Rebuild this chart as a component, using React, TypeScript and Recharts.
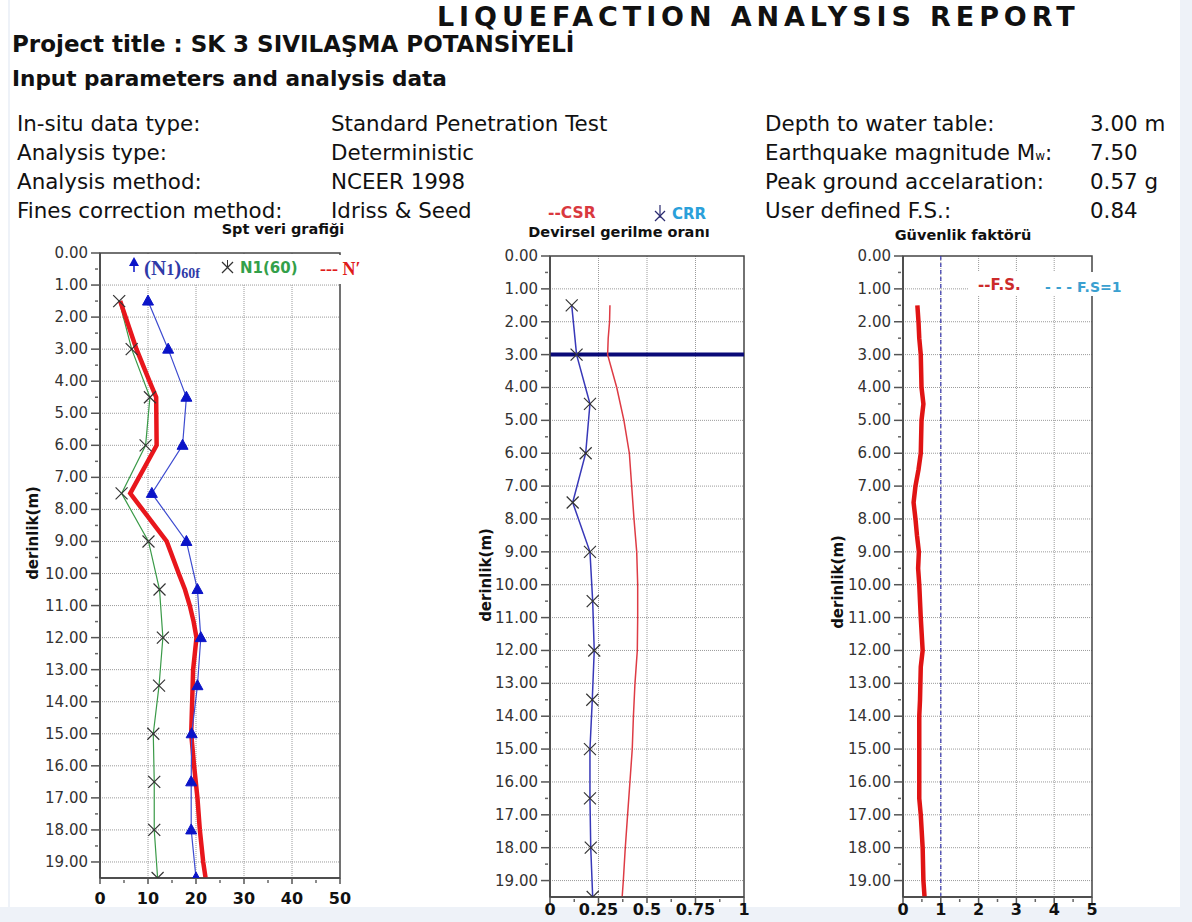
import React from "react";
import {
  LineChart,
  Line,
  XAxis,
  YAxis,
  CartesianGrid,
  ReferenceLine,
  ReferenceArea,
} from "recharts";

// depth axis (shared)
const depthTicks = [
  0, 0.5, 1, 1.5, 2, 2.5, 3, 3.5, 4, 4.5, 5, 5.5, 6, 6.5, 7, 7.5, 8, 8.5, 9, 9.5,
  10, 10.5, 11, 11.5, 12, 12.5, 13, 13.5, 14, 14.5, 15, 15.5, 16, 16.5, 17, 17.5,
  18, 18.5, 19,
];
const depthGrid = [1, 2, 3, 4, 5, 6, 7, 8, 9, 10, 11, 12, 13, 14, 15, 16, 17, 18, 19];

// Spt veri grafiği
const sptDepths = [1.5, 3, 4.5, 6, 7.5, 9, 10.5, 12, 13.5, 15, 16.5, 18, 19.5];
const n160fValues = [10, 14.2, 18, 17.2, 10.8, 18, 20.3, 21, 20.3, 19.1, 19, 19, 20];
const n160Values = [4, 6.6, 10.4, 9.5, 4.5, 10.1, 12.4, 13.1, 12.3, 11.1, 11.3, 11.3, 12];
const nPrimeDepths = [1.5, 3, 4, 4.5, 6, 7.5, 9, 10, 10.5, 11, 11.5, 12, 13, 14, 15, 16, 17, 18, 19, 19.5];
const nPrimeValues = [4.2, 7.6, 10.3, 11.7, 11.8, 6.3, 13.9, 16.4, 17.7, 18.7, 19.5, 20.1, 19.4, 19.2, 19, 19.6, 20.3, 20.8, 21.5, 22];
const sptTicks = [0, 5, 10, 15, 20, 25, 30, 35, 40, 45, 50];
const sptLabels = [0, 10, 20, 30, 40, 50];
const sptGrid = [10, 20, 30, 40];

// Devirsel gerilme oranı
const crrDepths = [1.5, 3, 4.5, 6, 7.5, 9, 10.5, 12, 13.5, 15, 16.5, 18, 19.5];
const crrValues = [0.112, 0.137, 0.206, 0.184, 0.117, 0.206, 0.22, 0.228, 0.218, 0.206, 0.206, 0.21, 0.22];
const csrDepths = [1.5, 2, 2.5, 3, 4, 5, 6, 7, 8, 9, 10, 11, 12, 13, 14, 15, 16, 17, 18, 19, 19.5];
const csrValues = [0.309, 0.307, 0.3, 0.297, 0.344, 0.381, 0.409, 0.421, 0.433, 0.447, 0.452, 0.452, 0.45, 0.438, 0.43, 0.424, 0.412, 0.4, 0.388, 0.378, 0.372];
const stressTicks = [0, 0.125, 0.25, 0.375, 0.5, 0.625, 0.75, 0.875, 1];
const stressLabels = [0, 0.25, 0.5, 0.75, 1];
const stressGrid = [0.25, 0.5, 0.75];
const waterTable = 3;

// Güvenlik faktörü
const fsDepths = [1.5, 2, 2.5, 3, 4, 4.5, 5, 6, 6.5, 7, 7.5, 8, 8.5, 9, 9.5, 10, 11, 12, 12.5, 13.5, 14, 15, 16, 16.5, 17, 18, 19, 19.5];
const fsValues = [0.38, 0.41, 0.43, 0.47, 0.49, 0.54, 0.49, 0.47, 0.41, 0.33, 0.28, 0.33, 0.37, 0.42, 0.4, 0.43, 0.47, 0.52, 0.47, 0.45, 0.43, 0.43, 0.43, 0.43, 0.47, 0.52, 0.54, 0.57];
const fsTicks = [0, 0.5, 1, 1.5, 2, 2.5, 3, 3.5, 4, 4.5, 5];
const fsLabels = [0, 1, 2, 3, 4, 5];
const fsGrid = [1, 2, 3, 4];
const fsLimit = 1;

const rows = (depths: number[], values: number[]) => depths.map((d, i) => ({ d, v: values[i] }));

const FONT = "'DejaVu Sans', Verdana, sans-serif";
const SERIF = "'Liberation Serif', 'DejaVu Serif', serif";

const DepthTick = ({ x, y, payload }: any) => {
  const v = payload.value as number;
  const major = Number.isInteger(v);
  return (
    <g>
      {major ? (
        <line x1={x - 9} x2={x} y1={y} y2={y} stroke="#555" strokeWidth={1.5} />
      ) : (
        <line x1={x - 5} x2={x - 2} y1={y} y2={y} stroke="#666" strokeWidth={1.5} />
      )}
      {major && (
        <text x={x - 12} y={y} textAnchor="end" dominantBaseline="central" fontSize={15} fill="#333" fontFamily={FONT}>
          {v.toFixed(2)}
        </text>
      )}
    </g>
  );
};

const makeValueTick = (labels: number[], dy: number) => ({ x, y, payload }: any) => {
  const v = payload.value as number;
  const major = labels.includes(v);
  return (
    <g>
      {major ? (
        <line x1={x} x2={x} y1={y} y2={y + 6} stroke="#555" strokeWidth={1.5} />
      ) : (
        <line x1={x} x2={x} y1={y + 2} y2={y + 5} stroke="#666" strokeWidth={1.5} />
      )}
      {major && (
        <text x={x} y={y + dy} textAnchor="middle" dominantBaseline="central" fontSize={16} fontWeight="bold" fill="#111" fontFamily={FONT}>
          {String(v)}
        </text>
      )}
    </g>
  );
};

const TriangleDot = (p: any) => {
  if (p.cx == null || p.cy == null) return <g key={p.index} />;
  return (
    <polygon
      key={p.index}
      points={`${p.cx},${p.cy - 6} ${p.cx - 5.5},${p.cy + 4} ${p.cx + 5.5},${p.cy + 4}`}
      fill="#0b14c8"
      stroke="#0b14c8"
    />
  );
};

const CrossDot = (p: any) => {
  if (p.cx == null || p.cy == null) return <g key={p.index} />;
  const s = 6;
  return (
    <g key={p.index}>
      <line x1={p.cx - s} y1={p.cy - s} x2={p.cx + s} y2={p.cy + s} stroke="#333" strokeWidth={1.2} />
      <line x1={p.cx - s} y1={p.cy + s} x2={p.cx + s} y2={p.cy - s} stroke="#333" strokeWidth={1.2} />
    </g>
  );
};

interface DepthChartProps {
  left: number;
  top: number;
  width: number;
  height: number;
  plotLeft: number;
  plotRight: number;
  plotTop: number;
  plotBottom: number;
  xDomain: [number, number];
  xTicks: number[];
  xLabels: number[];
  xGrid: number[];
  labelDy: number;
  children: React.ReactNode;
}

function DepthChart(props: DepthChartProps) {
  const { left, top, width, height, plotLeft, plotRight, plotTop, plotBottom, xDomain, xTicks, xLabels, xGrid, labelDy, children } = props;
  return (
    <div style={{ position: "absolute", left, top, width, height }}>
      <LineChart
        width={width}
        height={height}
        layout="vertical"
        margin={{ top: plotTop - top, right: left + width - plotRight, bottom: 0, left: 0 }}
      >
        <CartesianGrid
          stroke="#9a9a9a"
          strokeDasharray="1 1"
          horizontalValues={depthGrid}
          verticalValues={xGrid}
        />
        <XAxis
          type="number"
          domain={xDomain}
          ticks={xTicks}
          interval={0}
          allowDataOverflow
          height={top + height - plotBottom}
          tickSize={0}
          tickMargin={0}
          tickLine={false}
          axisLine={{ stroke: "#444", strokeWidth: 1.5 }}
          tick={makeValueTick(xLabels, labelDy)}
        />
        <YAxis
          type="number"
          dataKey="d"
          domain={[0, 19.5]}
          ticks={depthTicks}
          interval={0}
          allowDataOverflow
          width={plotLeft - left}
          tickSize={0}
          tickMargin={0}
          tickLine={false}
          axisLine={{ stroke: "#444", strokeWidth: 1.5 }}
          tick={<DepthTick />}
        />
        <ReferenceArea
          x1={xDomain[0]}
          x2={xDomain[1]}
          y1={0}
          y2={19.5}
          fill="none"
          stroke="#444"
          strokeWidth={1.5}
          ifOverflow="visible"
        />
        {children}
      </LineChart>
    </div>
  );
}

const abs = (left: number, top: number, extra: React.CSSProperties = {}): React.CSSProperties => ({
  position: "absolute",
  left,
  top,
  whiteSpace: "nowrap",
  lineHeight: 1.2,
  ...extra,
});

const rowStyle: React.CSSProperties = { fontSize: 21.4, color: "#111", fontFamily: FONT };

export default function App() {
  const labelRows = [
    ["In-situ data type:", "Standard Penetration Test"],
    ["Analysis type:", "Deterministic"],
    ["Analysis method:", "NCEER 1998"],
    ["Fines correction method:", "Idriss & Seed"],
  ];
  const rightRows: [React.ReactNode, string][] = [
    ["Depth to water table:", "3.00 m"],
    [
      <>
        Earthquake magnitude M<span style={{ fontSize: 12 }}>w</span>:
      </>,
      "7.50",
    ],
    ["Peak ground accelaration:", "0.57 g"],
    ["User defined F.S.:", "0.84"],
  ];

  // lineHeight 1.2 shifts text down by 0.1em compared with lineHeight 1
  const t = (top: number, size: number) => top - size * 0.1;

  const vLabel = (x: number, y: number) => (
    <div style={abs(x, y, { fontSize: 15, fontWeight: "bold", transform: "translate(-50%,-50%) rotate(-90deg)", color: "#111" })}>
      derinlik(m)
    </div>
  );

  return (
    <div
      style={{
        position: "absolute",
        left: 0,
        top: 0,
        width: 1192,
        height: 922,
        background: "#fff",
        overflow: "hidden",
        fontFamily: FONT,
      }}
    >
      {/* page frame */}
      <div style={{ position: "absolute", left: 0, top: 907, width: 1192, height: 15, background: "#eef2f8" }} />
      <div style={{ position: "absolute", left: 1180, top: 0, width: 12, height: 922, background: "#eef2f8" }} />
      <div style={{ position: "absolute", left: 8, top: 0, width: 2, height: 907, background: "#eef2f8" }} />

      {/* header */}
      <div style={abs(437, 3, { fontSize: 27, fontWeight: "bold", letterSpacing: 4.9, color: "#111", lineHeight: 1 })}>
        LIQUEFACTION ANALYSIS REPORT
      </div>
      <div style={abs(12, t(33, 23), { fontSize: 23, fontWeight: "bold", color: "#111" })}>
        Project title : SK 3 SIVILAŞMA POTANSİYELİ
      </div>
      <div style={abs(12, t(68, 21.6), { fontSize: 21.6, fontWeight: "bold", color: "#111" })}>
        Input parameters and analysis data
      </div>
      {labelRows.map((r, i) => (
        <React.Fragment key={"l" + i}>
          <div style={abs(17, t(113 + i * 29, 21.4), rowStyle)}>{r[0]}</div>
          <div style={abs(331, t(113 + i * 29, 21.4), rowStyle)}>{r[1]}</div>
        </React.Fragment>
      ))}
      {rightRows.map((r, i) => (
        <React.Fragment key={"r" + i}>
          <div style={abs(765, t(113 + i * 29, 21.4), rowStyle)}>{r[0]}</div>
          <div style={abs(1090, t(113 + i * 29, 21.4), rowStyle)}>{r[1]}</div>
        </React.Fragment>
      ))}

      {/* Spt veri grafiği */}
      <DepthChart
        left={0}
        top={240}
        width={360}
        height={680}
        plotLeft={100}
        plotRight={340}
        plotTop={253}
        plotBottom={878}
        xDomain={[0, 50]}
        xTicks={sptTicks}
        xLabels={sptLabels}
        xGrid={sptGrid}
        labelDy={20}
      >
        <Line
          data={rows(sptDepths, n160Values)}
          dataKey="v"
          stroke="#3a9a48"
          strokeWidth={1.2}
          dot={CrossDot}
          isAnimationActive={false}
        />
        <Line
          data={rows(nPrimeDepths, nPrimeValues)}
          dataKey="v"
          stroke="#e8161c"
          strokeWidth={4.5}
          dot={false}
          isAnimationActive={false}
        />
        <Line
          data={rows(sptDepths, n160fValues)}
          dataKey="v"
          stroke="#3d4bd0"
          strokeWidth={1.2}
          dot={TriangleDot}
          isAnimationActive={false}
        />
      </DepthChart>

      {/* Devirsel gerilme oranı */}
      <DepthChart
        left={460}
        top={240}
        width={300}
        height={682}
        plotLeft={550}
        plotRight={744}
        plotTop={256}
        plotBottom={897}
        xDomain={[0, 1]}
        xTicks={stressTicks}
        xLabels={stressLabels}
        xGrid={stressGrid}
        labelDy={12}
      >
        <ReferenceLine y={waterTable} stroke="#0a0a78" strokeWidth={4} />
        <Line
          data={rows(csrDepths, csrValues)}
          dataKey="v"
          stroke="#de3b44"
          strokeWidth={1.5}
          dot={false}
          isAnimationActive={false}
        />
        <Line
          data={rows(crrDepths, crrValues)}
          dataKey="v"
          stroke="#3838b8"
          strokeWidth={1.5}
          dot={CrossDot}
          isAnimationActive={false}
        />
      </DepthChart>

      {/* Güvenlik faktörü */}
      <DepthChart
        left={820}
        top={240}
        width={300}
        height={682}
        plotLeft={903}
        plotRight={1092}
        plotTop={256}
        plotBottom={897}
        xDomain={[0, 5]}
        xTicks={fsTicks}
        xLabels={fsLabels}
        xGrid={fsGrid}
        labelDy={12}
      >
        <ReferenceLine x={fsLimit} stroke="#3a3ab0" strokeWidth={1.2} strokeDasharray="4 3" />
        <Line
          data={rows(fsDepths, fsValues)}
          dataKey="v"
          stroke="#e01414"
          strokeWidth={4.5}
          dot={false}
          isAnimationActive={false}
        />
      </DepthChart>

      {/* chart titles */}
      <div style={abs(283, t(222, 14.5), { fontSize: 14.5, fontWeight: "bold", transform: "translateX(-50%)", color: "#111" })}>
        Spt veri grafiği
      </div>
      <div style={abs(619, t(225, 14.5), { fontSize: 14.5, fontWeight: "bold", transform: "translateX(-50%)", color: "#111" })}>
        Devirsel gerilme oranı
      </div>
      <div style={abs(963, t(228, 14.5), { fontSize: 14.5, fontWeight: "bold", transform: "translateX(-50%)", color: "#111" })}>
        Güvenlik faktörü
      </div>

      {/* depth labels */}
      {vLabel(33, 533)}
      {vLabel(486, 575)}
      {vLabel(838, 582)}

      {/* legend: Spt */}
      <div style={{ position: "absolute", left: 102, top: 255, width: 262, height: 29, background: "#fff" }} />
      <svg style={{ position: "absolute", left: 127, top: 256 }} width={14} height={18}>
        <polygon points="7,1 2,10 12,10" fill="#0b14c8" />
        <line x1={7} y1={9} x2={7} y2={16} stroke="#0b14c8" strokeWidth={1.5} />
      </svg>
      <div style={abs(144, t(258, 21), { fontFamily: SERIF, fontWeight: "bold", fontSize: 21, color: "#2f3aa8" })}>
        (N<span style={{ fontSize: 16 }}>1</span>)<span style={{ fontSize: 14, position: "relative", top: 3 }}>60f</span>
      </div>
      <svg style={{ position: "absolute", left: 221, top: 259 }} width={14} height={16}>
        <line x1={1} y1={3} x2={12} y2={14} stroke="#333" strokeWidth={1.3} />
        <line x1={1} y1={14} x2={12} y2={3} stroke="#333" strokeWidth={1.3} />
        <line x1={6.5} y1={1} x2={6.5} y2={9} stroke="#333" strokeWidth={1} />
      </svg>
      <div style={abs(240, t(260, 15), { fontSize: 15, fontWeight: "bold", color: "#33a04a" })}>N1(60)</div>
      <div style={abs(320, t(261, 18), { fontFamily: SERIF, fontWeight: "bold", fontSize: 18, color: "#e01a1a" })}>
        --- N′
      </div>

      {/* legend: CSR / CRR */}
      <div style={abs(548, t(206, 15.5), { fontSize: 15.5, fontWeight: "bold", color: "#d9383e" })}>--CSR</div>
      <svg style={{ position: "absolute", left: 653, top: 204 }} width={14} height={20}>
        <line x1={2} y1={7} x2={12} y2={17} stroke="#2a2a70" strokeWidth={1.2} />
        <line x1={2} y1={17} x2={12} y2={7} stroke="#2a2a70" strokeWidth={1.2} />
        <line x1={7} y1={1} x2={7} y2={14} stroke="#2a2a70" strokeWidth={1.2} />
      </svg>
      <div style={abs(672, t(206, 15), { fontSize: 15, fontWeight: "bold", color: "#2aa0da" })}>CRR</div>

      {/* legend: F.S. */}
      <div style={{ position: "absolute", left: 968, top: 272, width: 160, height: 24, background: "#fff" }} />
      <div style={abs(978, t(277, 15), { fontSize: 15, fontWeight: "bold", color: "#cc2a2a" })}>--F.S.</div>
      <div style={abs(1045, t(280, 14), { fontSize: 14, fontWeight: "bold", color: "#3aa0d0" })}>- - - F.S=1</div>
    </div>
  );
}
